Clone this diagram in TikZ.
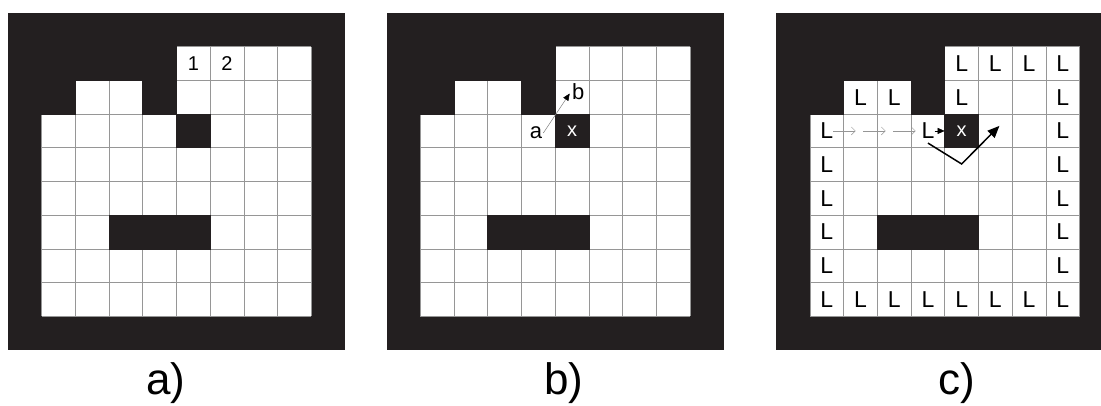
\documentclass[tikz,border=0pt]{standalone}
\usepackage{fontspec}
\setmainfont{Liberation Sans}
\usetikzlibrary{arrows.meta,calc}
\definecolor{BoardBlack}{RGB}{35,31,32}
\definecolor{GridGray}{RGB}{150,150,150}
\definecolor{TrailGray}{RGB}{150,150,150}
\tikzset{
  board/.style={fill=BoardBlack},
  hole/.style={fill=BoardBlack,draw=BoardBlack,line width=0.8pt},
  cellline/.style={draw=GridGray,line width=0.8pt},
  caption/.style={anchor=base,font=\fontsize{44}{48}\selectfont},
  digit/.style={font=\fontsize{20}{22}\selectfont},
  lmark/.style={inner sep=0pt,font=\fontsize{23}{25}\selectfont},
  xcell/.style={minimum size=33.7pt,inner sep=0pt,text=white,
    font=\fontsize{20}{22}\selectfont},
  corner/.style={inner sep=1pt,font=\fontsize{22}{24}\selectfont},
  pointer/.style={-{Triangle[length=7pt,width=6pt,color=black]},draw=gray,line width=0.5pt},
  trail/.style={-{Straight Barb[length=4pt,width=8pt]},draw=TrailGray,line width=0.5pt},
  turn/.style={-{Triangle[length=12pt,width=10pt]},line width=1.5pt,line join=miter}
}
\newcommand{\drawboard}{%
  \fill[board] (0,0) rectangle (10,10);
  \fill[white] (1,1) rectangle (9,9);
  \foreach \i in {1,...,9} {
    \draw[cellline] (\i,1) -- (\i,9);
    \draw[cellline] (1,\i) -- (9,\i);
  }
  \path[hole] (1,1) rectangle (5,2);
  \path[hole] (1,2) rectangle (2,3);
  \path[hole] (4,2) rectangle (5,3);
  \path[hole] (5,3) rectangle (6,4);
  \path[hole] (3,6) rectangle (6,7);
}

\begin{document}
\begin{tikzpicture}[x=33.7pt,y=-33.7pt]
  \useasboundingbox (0pt,0pt) rectangle (1101pt,-405pt);
  \clip (0pt,0pt) rectangle (1101pt,-405pt);

  % a) the board with the scan start
  \begin{scope}[shift={(8pt,-13pt)}]
    \drawboard
    \node[digit] (one) at (5.5,1.5) {1};
    \node[digit] (two) at (6.5,1.5) {2};
    \node[caption] (capa) at (4.69,11.33) {a)};
  \end{scope}

  % b) first hit
  \begin{scope}[shift={(386.7pt,-13pt)}]
    \drawboard
    \node[xcell] (xb) at (5.5,3.5) {x};
    \node[corner] (a) at (4.43,3.56) {a};
    \node[corner] (b) at (5.68,2.34) {b};
    \draw[pointer,shorten >=2pt] (a.east) -- (b.west);
    \node[caption] (capb) at (5.26,11.33) {b)};
  \end{scope}

  % c) labelled border
  \begin{scope}[shift={(776.3pt,-13pt)}]
    \drawboard
    \node[xcell] (xc) at (5.5,3.5) {x};
    \foreach \c/\r in {4/0,5/0,6/0,7/0,1/1,2/1,4/1,7/1,0/2,3/2,7/2,
        0/3,7/3,0/4,7/4,0/5,7/5,0/6,7/6,
        0/7,1/7,2/7,3/7,4/7,5/7,6/7,7/7}
      \node[lmark] (L\c-\r) at ({\c+1.5},{\r+1.5}) {L};
    \foreach \k in {0,1,2}
      \draw[trail] ([xshift=\k*30pt]L0-2.east) -- ++(0.66,0);
    \draw[pointer,draw=black] (L3-2.east) -- (xc.west);
    \coordinate (v0) at (4.5,3.86);
    \coordinate (v1) at (5.5,4.48);
    \coordinate (v2) at (6.62,3.35);
    \draw[turn] (v0) -- (v1) -- (v2);
    \node[caption] (capc) at (5.36,11.33) {c)};
  \end{scope}
\end{tikzpicture}
\end{document}
